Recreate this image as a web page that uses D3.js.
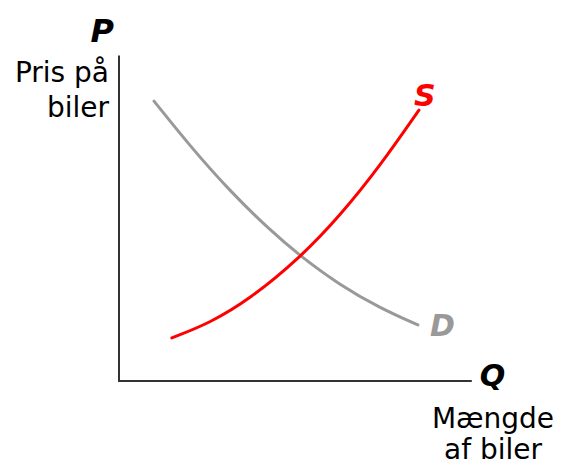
<!DOCTYPE html>
<head>
    <title>Udbud og efterspørgsel - biler</title>
    <script src="https://d3js.org/d3.v7.min.js"></script>
</head>
<style>
body {
  margin: 0;
  background: #fff;
  font-family: "DejaVu Sans", Verdana, sans-serif;
}
</style>
<body>
    <svg></svg>
</body>

<script>

    // Demand curve (D), axes 0..10
    var demandX = [1.0, 2.03, 3.17, 4.31, 5.14, 6.31, 7.46, 8.54];
    var demandY = [8.64, 7.25, 5.86, 4.66, 3.89, 2.96, 2.25, 1.73];

    // Supply curve (S)
    var supplyX = [1.51, 2.6, 3.74, 5.14, 6.31, 7.46, 8.57];
    var supplyY = [1.33, 1.79, 2.53, 3.77, 5.09, 6.64, 8.36];

    // Labels
    var yTitle = ["Pris på", "biler"];
    var xTitle = ["Mængde", "af biler"];

    var width = 563;
    var height = 471;

    var x = d3.scaleLinear().domain([0, 10]).range([119, 469]);
    var y = d3.scaleLinear().domain([0, 10]).range([381, 57]);

    var svg = d3.select('svg')
        .attr('width', width)
        .attr('height', height);

    // Axes: just two plain lines, no ticks
    svg.append('line')
        .attr('x1', x(0)).attr('y1', y(0) + 1)
        .attr('x2', x(0)).attr('y2', y(10.05))
        .style('stroke', '#333').style('stroke-width', 2);
    svg.append('line')
        .attr('x1', x(0) - 1).attr('y1', y(0))
        .attr('x2', x(10.08)).attr('y2', y(0))
        .style('stroke', '#333').style('stroke-width', 2);

    var line = d3.line()
        .x(function (d) { return x(d[0]); })
        .y(function (d) { return y(d[1]); })
        .curve(d3.curveBasis);

    var demand = d3.zip(demandX, demandY);
    var supply = d3.zip(supplyX, supplyY);

    svg.append('path')
        .attr('d', line(demand))
        .style('fill', 'none')
        .style('stroke', '#999')
        .style('stroke-width', 3)
        .style('stroke-linecap', 'round');

    svg.append('path')
        .attr('d', line(supply))
        .style('fill', 'none')
        .style('stroke', '#ff0000')
        .style('stroke-width', 3)
        .style('stroke-linecap', 'round');

    // Curve and axis letters
    function bigLabel(txt, px, py, color, size, anchor) {
        svg.append('text')
            .attr('x', px).attr('y', py)
            .attr('text-anchor', anchor || 'start')
            .style('font-size', size + 'px')
            .style('font-weight', 'bold')
            .style('font-style', 'italic')
            .style('fill', color)
            .text(txt);
    }

    var lastS = supply[supply.length - 1];
    var lastD = demand[demand.length - 1];
    bigLabel('S', x(lastS[0]) - 5, y(lastS[1]) - 4, '#ff0000', 30);
    bigLabel('D', x(lastD[0]) + 12, y(lastD[1]) + 11, '#999', 30);
    bigLabel('P', 114, 42, '#000', 32, 'end');
    bigLabel('Q', x(10.08) + 8, y(0) + 5, '#000', 30);

    // Axis titles
    svg.selectAll('.ytitle')
        .data(yTitle)
        .enter().append('text')
        .attr('class', 'ytitle')
        .attr('x', 109)
        .attr('y', function (d, i) { return 82 + i * 35; })
        .attr('text-anchor', 'end')
        .style('font-size', '28px')
        .text(function (d) { return d; });

    svg.selectAll('.xtitle')
        .data(xTitle)
        .enter().append('text')
        .attr('class', 'xtitle')
        .attr('x', 493)
        .attr('y', function (d, i) { return 428 + i * 31; })
        .attr('text-anchor', 'middle')
        .style('font-size', '28px')
        .text(function (d) { return d; });

</script>
